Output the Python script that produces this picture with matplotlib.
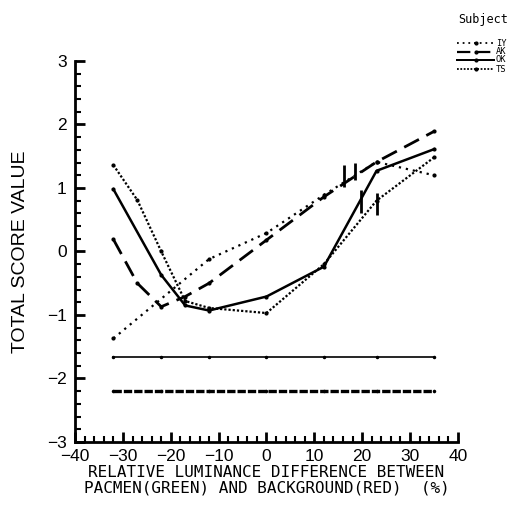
import matplotlib
matplotlib.use('Agg')
import matplotlib.pyplot as plt
from matplotlib.lines import Line2D
from matplotlib.ticker import MultipleLocator

# 데이터
x_iy = [-32, -12, 0, 12, 23, 35]
y_iy = [-1.37, -0.12, 0.29, 0.89, 1.41, 1.20]

x_ak = [-32, -27, -22, -17, -12, 0, 12, 23, 35]
y_ak = [0.19, -0.50, -0.87, -0.71, -0.50, 0.18, 0.86, 1.41, 1.89]

x_ok = [-32, -22, -17, -12, 0, 12, 23, 35]
y_ok = [0.98, -0.37, -0.85, -0.93, -0.71, -0.24, 1.27, 1.61]

x_ts = [-32, -27, -22, -17, -12, 0, 12, 23, 35]
y_ts = [1.36, 0.81, 0.00, -0.78, -0.89, -0.97, -0.20, 0.80, 1.48]

# 수평 기준선
x_ref = [-32, -22, -12, 0, 12, 23, 35]
y_ref_solid = [-1.66] * len(x_ref)
y_ref_dense = [-2.20] * len(x_ref)

# 짧은 세로 표시 (x, y 아래, y 위)
mark_x = [16.3, 18.4, 19.8, 23.0]
mark_lo = [1.01, 1.13, 0.61, 0.57]
mark_hi = [1.36, 1.39, 0.97, 0.92]

subjects = ['IY', 'AK', 'OK', 'TS']

sans = ['Liberation Sans', 'DejaVu Sans']
mono = ['DejaVu Sans Mono']

fig = plt.figure(figsize=(5.11, 5.08), dpi=100)
ax = fig.add_axes([0.147, 0.13, 0.749, 0.75])

style_iy = dict(color='black', lw=1.6, ls=(0, (1, 2.2)), marker='o', ms=2)
style_ak = dict(color='black', lw=2.0, ls=(0, (6, 3)), marker='o', ms=2)
style_ok = dict(color='black', lw=1.8, ls='-', marker='o', ms=2)
style_ts = dict(color='black', lw=1.6, ls=(0, (1, 0.9)), marker='o', ms=2)
styles = [style_iy, style_ak, style_ok, style_ts]

ax.plot(x_iy, y_iy, **style_iy)
ax.plot(x_ak, y_ak, **style_ak)
ax.plot(x_ok, y_ok, **style_ok)
ax.plot(x_ts, y_ts, **style_ts)

ax.plot(x_ref, y_ref_solid, color='black', lw=1.2, marker='o', ms=1.5)
ax.plot(x_ref, y_ref_dense, color='black', lw=2.4, ls=(0, (2.5, 0.6)), marker='o', ms=1.5)

ax.vlines(mark_x, mark_lo, mark_hi, color='black', lw=2.0)

ax.set_xlim(-40, 40)
ax.set_ylim(-3, 3)
ax.xaxis.set_major_locator(MultipleLocator(10))
ax.xaxis.set_minor_locator(MultipleLocator(2))
ax.yaxis.set_major_locator(MultipleLocator(1))
ax.yaxis.set_minor_locator(MultipleLocator(0.2))

for s in ['top', 'right']:
    ax.spines[s].set_visible(False)
for s in ['left', 'bottom']:
    ax.spines[s].set_linewidth(2)

ax.tick_params(which='major', direction='in', length=7, width=2)
ax.tick_params(axis='x', which='major', pad=5)
ax.tick_params(axis='y', which='major', pad=6)
ax.tick_params(which='minor', direction='in', length=4, width=1.5)
for lab in ax.get_xticklabels() + ax.get_yticklabels():
    lab.set_family(sans)
    lab.set_fontsize(12.5)

ax.set_ylabel('TOTAL SCORE VALUE', family=sans, fontsize=14, labelpad=13)
ax.set_xlabel('RELATIVE LUMINANCE DIFFERENCE BETWEEN\nPACMEN(GREEN) AND BACKGROUND(RED)  (%)',
              family=mono, fontsize=11.5, labelpad=1, linespacing=1.05)

# 범례 (수동 배치, 오른쪽 끝에서 잘림)
W, H = 511.0, 508.0
fig.text(458 / W, 1 - 19 / H, 'Subject', family=mono, fontsize=8.5, va='center', ha='left')
leg_y = [43, 52, 60, 69]
for name, st, yy in zip(subjects, styles, leg_y):
    fy = 1 - yy / H
    fig.add_artist(Line2D([457 / W, 494 / W], [fy, fy], transform=fig.transFigure,
                          color='black', lw=st['lw'] * 0.8, ls=st['ls']))
    fig.add_artist(Line2D([476 / W], [fy], transform=fig.transFigure,
                          color='black', marker='o', ms=2, ls='none'))
    fig.text(496 / W, fy, name, family=mono, fontsize=6.3, va='center', ha='left')

fig.savefig('out.png', dpi=100)
